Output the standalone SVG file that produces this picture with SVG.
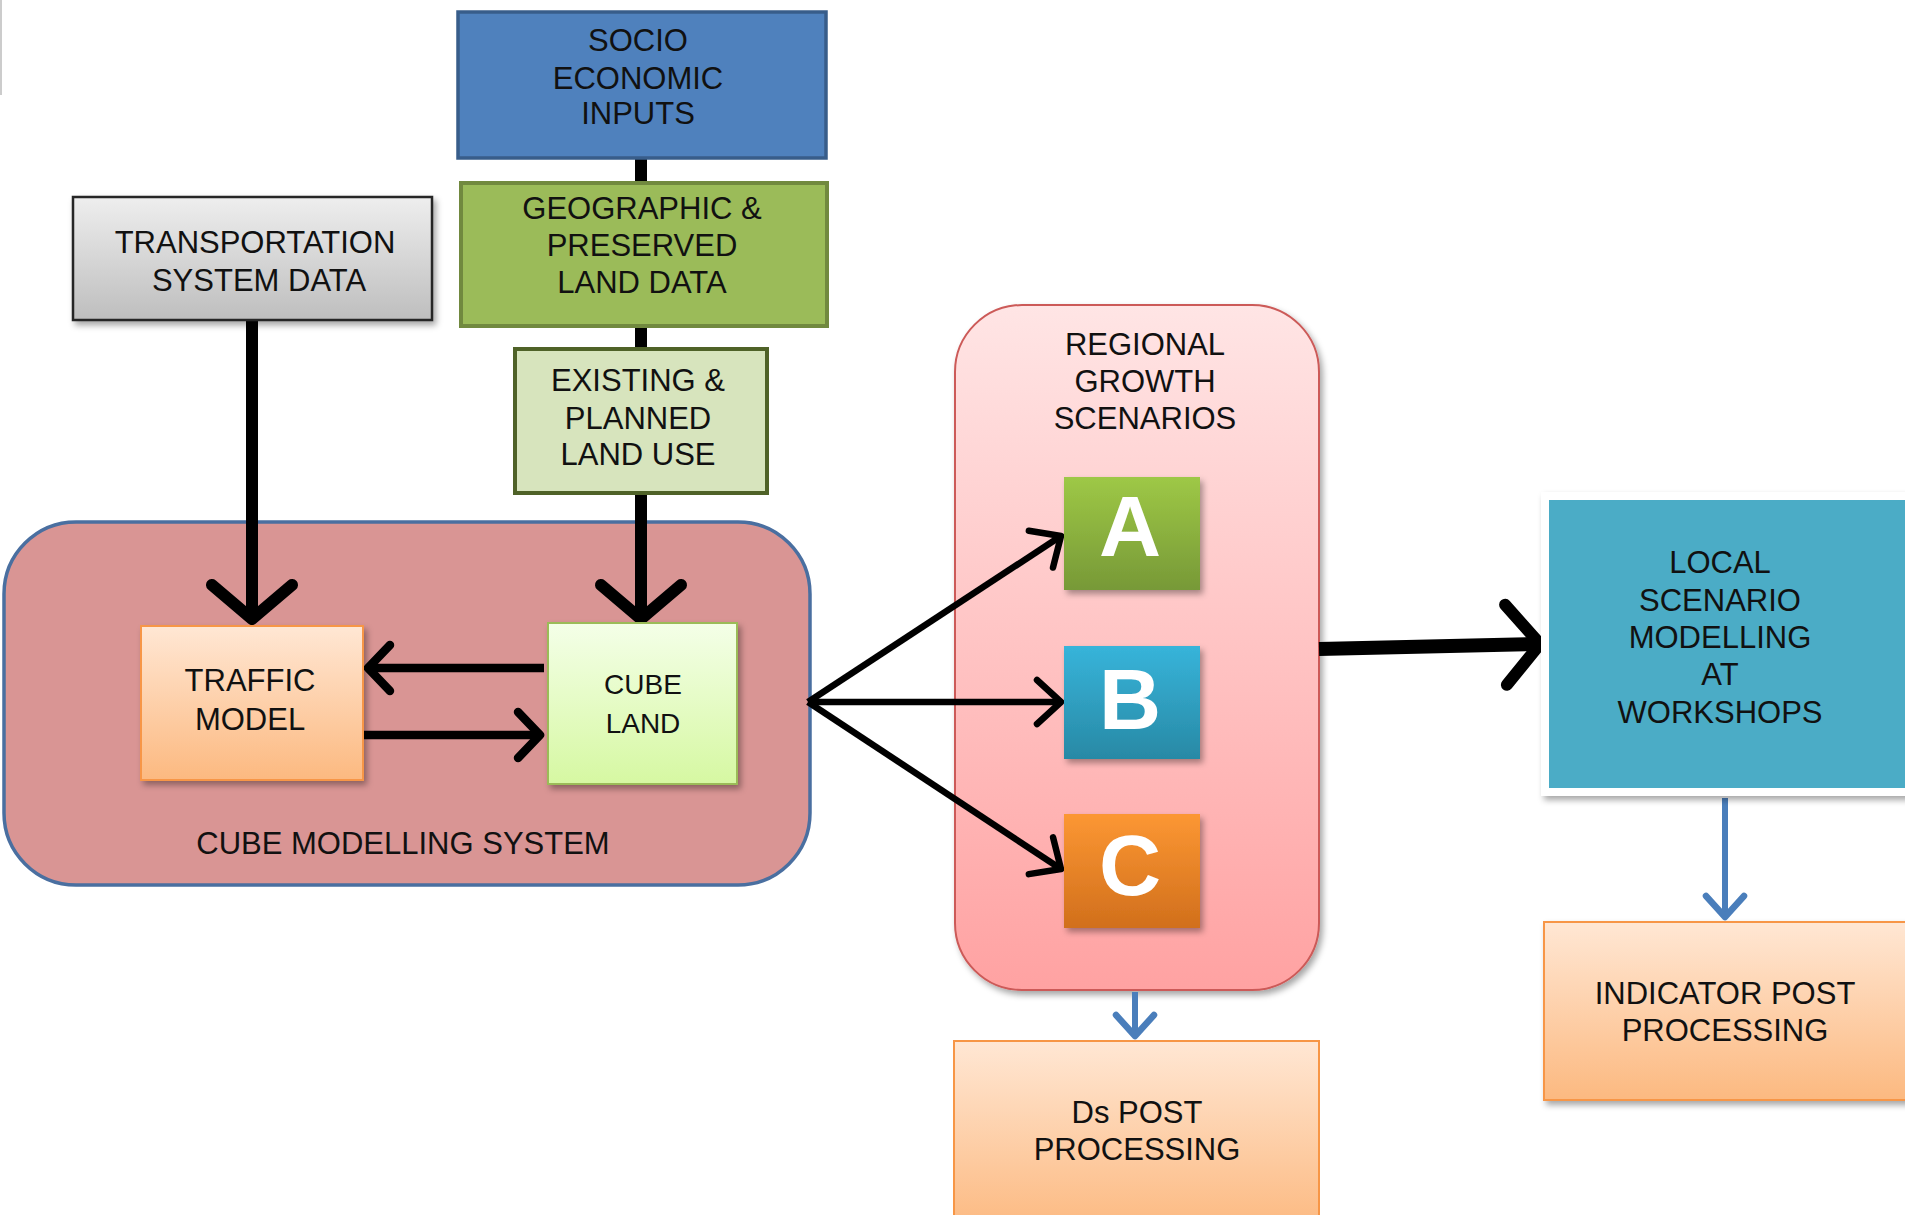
<svg xmlns="http://www.w3.org/2000/svg" width="1905" height="1215" viewBox="0 0 1905 1215">
<defs>
<style>
.t{font-family:"Liberation Sans",Arial,sans-serif;font-size:31px;fill:#111;text-anchor:middle}
.big{font-family:"Liberation Sans",Arial,sans-serif;font-size:86px;font-weight:bold;fill:#fff;text-anchor:middle}
.blk{stroke:#000;fill:none;stroke-linecap:butt}
.blue{stroke:#4A7EBB;stroke-width:6;fill:none}
</style>
<linearGradient id="gGray" x1="0" y1="0" x2="0" y2="1"><stop offset="0" stop-color="#EEEEEE"/><stop offset="1" stop-color="#BEBEBE"/></linearGradient>
<linearGradient id="gOr" x1="0" y1="0" x2="0" y2="1"><stop offset="0" stop-color="#FFE7D4"/><stop offset="1" stop-color="#FCB980"/></linearGradient>
<linearGradient id="gLg" x1="0" y1="0" x2="0" y2="1"><stop offset="0" stop-color="#F4FFE8"/><stop offset="1" stop-color="#D6F8A2"/></linearGradient>
<linearGradient id="gPk" x1="0" y1="0" x2="0" y2="1"><stop offset="0" stop-color="#FFE5E5"/><stop offset="1" stop-color="#FFA2A2"/></linearGradient>
<linearGradient id="gA" x1="0" y1="0" x2="0" y2="1"><stop offset="0" stop-color="#9EC846"/><stop offset="1" stop-color="#779937"/></linearGradient>
<linearGradient id="gB" x1="0" y1="0" x2="0" y2="1"><stop offset="0" stop-color="#37B4DA"/><stop offset="1" stop-color="#2889A5"/></linearGradient>
<linearGradient id="gC" x1="0" y1="0" x2="0" y2="1"><stop offset="0" stop-color="#FC9733"/><stop offset="1" stop-color="#D16F1C"/></linearGradient>
<filter id="sh" x="-10%" y="-10%" width="125%" height="125%"><feDropShadow dx="3" dy="4" stdDeviation="3" flood-color="#000" flood-opacity="0.35"/></filter>
<marker id="chevBig" viewBox="-46 -50 60 100" markerWidth="60" markerHeight="100" refX="0" refY="0" orient="auto" markerUnits="userSpaceOnUse"><path d="M-34,-40 L0,0 L-34,40" fill="none" stroke="#000" stroke-width="12" stroke-linecap="round" stroke-linejoin="round"/></marker>
<marker id="chevMed" viewBox="-30 -30 40 60" markerWidth="40" markerHeight="60" refX="0" refY="0" orient="auto" markerUnits="userSpaceOnUse"><path d="M-22,-23 L0,0 L-22,23" fill="none" stroke="#000" stroke-width="8.5" stroke-linecap="round" stroke-linejoin="round"/></marker>
<marker id="chevThin" viewBox="-30 -30 40 60" markerWidth="40" markerHeight="60" refX="0" refY="0" orient="auto" markerUnits="userSpaceOnUse"><path d="M-24,-22 L0,0 L-24,22" fill="none" stroke="#000" stroke-width="6.5" stroke-linecap="round" stroke-linejoin="round"/></marker>
<marker id="chevBlue" viewBox="-28 -26 34 52" markerWidth="34" markerHeight="52" refX="0" refY="0" orient="auto" markerUnits="userSpaceOnUse"><path d="M-21,-19 L0,0 L-21,19" fill="none" stroke="#4A7EBB" stroke-width="6.5" stroke-linecap="round" stroke-linejoin="round"/></marker>
</defs>
<rect width="1905" height="1215" fill="#fff"/>
<line x1="1" y1="0" x2="1" y2="95" stroke="#BBBBBB" stroke-width="1.5"/>

<g id="cube-modelling-system">
<rect x="4" y="522" width="806" height="363" rx="72" fill="#D99594" stroke="#4A6FA0" stroke-width="3.5"/>
<text class="t" x="403" y="854">CUBE MODELLING  SYSTEM</text>
</g>

<g id="regional-growth-scenarios">
<rect x="955" y="305" width="364" height="685" rx="67" fill="url(#gPk)" stroke="#CC5A58" stroke-width="2" filter="url(#sh)"/>
<text class="t" x="1145" y="355">REGIONAL</text>
<text class="t" x="1145" y="392">GROWTH</text>
<text class="t" x="1145" y="429">SCENARIOS</text>
</g>

<g id="connectors">
<line class="blk" x1="641" y1="158" x2="641" y2="182" stroke-width="12"/>
<line class="blk" x1="641" y1="326" x2="641" y2="349" stroke-width="12"/>
<line class="blk" x1="641" y1="493" x2="641" y2="619" stroke-width="12" marker-end="url(#chevBig)"/>
<line class="blk" x1="252" y1="320" x2="252" y2="619" stroke-width="12" marker-end="url(#chevBig)"/>
<line class="blk" x1="544" y1="668" x2="368" y2="668" stroke-width="8.5" marker-end="url(#chevMed)"/>
<line class="blk" x1="364" y1="735" x2="540" y2="735" stroke-width="8.5" marker-end="url(#chevMed)"/>
<line class="blk" x1="808" y1="702" x2="1061" y2="536" stroke-width="6.5" marker-end="url(#chevThin)"/>
<line class="blk" x1="808" y1="702" x2="1061" y2="702" stroke-width="6.5" marker-end="url(#chevThin)"/>
<line class="blk" x1="808" y1="702" x2="1061" y2="869" stroke-width="6.5" marker-end="url(#chevThin)"/>
<line class="blk" x1="1319" y1="649" x2="1540" y2="644" stroke-width="14" marker-end="url(#chevBig)"/>
<line class="blue" x1="1725" y1="798" x2="1725" y2="917" marker-end="url(#chevBlue)"/>
<line class="blue" x1="1135" y1="992" x2="1135" y2="1036" marker-end="url(#chevBlue)"/>
</g>

<g id="socio-economic-inputs">
<rect x="458" y="12" width="368" height="146" fill="#4F81BD" stroke="#385D8A" stroke-width="3.5"/>
<text class="t" x="638" y="51">SOCIO</text>
<text class="t" x="638" y="89">ECONOMIC</text>
<text class="t" x="638" y="124">INPUTS</text>
</g>

<g id="geographic-preserved-land-data">
<rect x="461" y="183" width="366" height="143" fill="#9BBB59" stroke="#71893F" stroke-width="4"/>
<text class="t" x="642" y="219">GEOGRAPHIC &amp;</text>
<text class="t" x="642" y="256">PRESERVED</text>
<text class="t" x="642" y="293">LAND DATA</text>
</g>

<g id="transportation-system-data">
<rect x="73" y="197" width="359" height="123" fill="url(#gGray)" stroke="#262626" stroke-width="2.5" filter="url(#sh)"/>
<text class="t" x="255" y="253">TRANSPORTATION</text>
<text class="t" x="259" y="291">SYSTEM DATA</text>
</g>

<g id="existing-planned-land-use">
<rect x="515" y="349" width="252" height="144" fill="#D7E4BD" stroke="#4F6228" stroke-width="4"/>
<text class="t" x="638" y="391">EXISTING  &amp;</text>
<text class="t" x="638" y="429">PLANNED</text>
<text class="t" x="638" y="465">LAND USE</text>
</g>

<g id="traffic-model">
<rect x="141" y="626" width="222" height="154" fill="url(#gOr)" stroke="#F79646" stroke-width="2" filter="url(#sh)"/>
<text class="t" x="250" y="691">TRAFFIC</text>
<text class="t" x="250" y="730">MODEL</text>
</g>

<g id="cube-land">
<rect x="548" y="623" width="189" height="161" fill="url(#gLg)" stroke="#9BBB59" stroke-width="2" filter="url(#sh)"/>
<text class="t" x="643" y="694" style="font-size:28px">CUBE</text>
<text class="t" x="643" y="733" style="font-size:28px">LAND</text>
</g>

<g id="scenario-a">
<rect x="1064" y="477" width="136" height="113" fill="url(#gA)" filter="url(#sh)"/>
<text class="big" x="1130" y="556">A</text>
</g>

<g id="scenario-b">
<rect x="1064" y="646" width="136" height="113" fill="url(#gB)" filter="url(#sh)"/>
<text class="big" x="1130" y="729">B</text>
</g>

<g id="scenario-c">
<rect x="1064" y="814" width="136" height="114" fill="url(#gC)" filter="url(#sh)"/>
<text class="big" x="1130" y="895">C</text>
</g>

<g id="local-scenario-modelling">
<rect x="1545" y="496" width="370" height="296" fill="#4BACC6" stroke="#FFFFFF" stroke-width="8" filter="url(#sh)"/>
<text class="t" x="1720" y="573">LOCAL</text>
<text class="t" x="1720" y="611">SCENARIO</text>
<text class="t" x="1720" y="648">MODELLING</text>
<text class="t" x="1720" y="685">AT</text>
<text class="t" x="1720" y="723">WORKSHOPS</text>
</g>

<g id="indicator-post-processing">
<rect x="1544" y="922" width="370" height="178" fill="url(#gOr)" stroke="#F79646" stroke-width="2" filter="url(#sh)"/>
<text class="t" x="1725" y="1004">INDICATOR  POST</text>
<text class="t" x="1725" y="1041">PROCESSING</text>
</g>

<g id="ds-post-processing">
<rect x="954" y="1041" width="365" height="190" fill="url(#gOr)" stroke="#F79646" stroke-width="2"/>
<text class="t" x="1137" y="1123">Ds POST</text>
<text class="t" x="1137" y="1160">PROCESSING</text>
</g>
</svg>
